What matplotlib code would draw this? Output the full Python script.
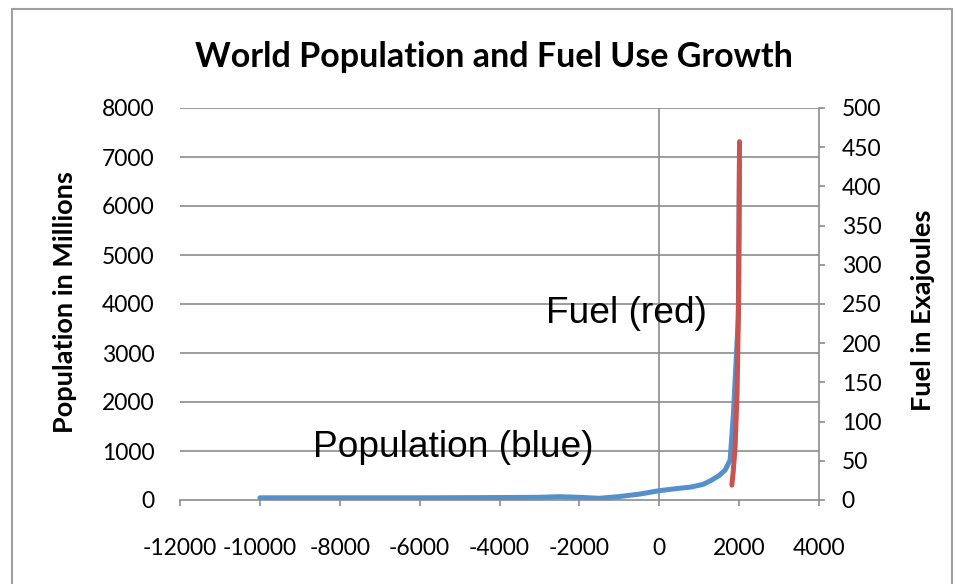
import matplotlib
matplotlib.use('agg')

import matplotlib.pyplot as plt
import matplotlib.patches as patches
import numpy as np


# population in millions
pop_years = [-10000, -8000, -6000, -4000, -3000, -2500, -2000, -1500, -1000, -500, 0,
             400, 800, 1100, 1300, 1500, 1650, 1775, 1858, 1900, 1978, 1995, 2010]
population = [45, 45, 45, 50, 55, 68, 55, 35, 70, 120, 190,
              230, 265, 320, 400, 500, 610, 816, 1770, 2450, 3700, 5300, 6900]

# fuel use in exajoules
fuel_years = [1817, 1850, 1900, 1950, 1985, 2000, 2010]
fuel = [19, 35, 68, 140, 250, 380, 457]

x_ticks = [-12000, -10000, -8000, -6000, -4000, -2000, 0, 2000, 4000]
left_ticks = [0, 1000, 2000, 3000, 4000, 5000, 6000, 7000, 8000]
right_ticks = [0, 50, 100, 150, 200, 250, 300, 350, 400, 450, 500]

title = 'World Population and Fuel Use Growth'
grid_col = '#8c8c8c'
blue = '#5590CC'
red = '#C9534F'
calibri = ['Lato', 'DejaVu Sans']
arial = ['Liberation Sans', 'DejaVu Sans']

fig = plt.figure(figsize=(9.55, 5.84), dpi=100)
fig.patch.set_facecolor('white')

# outer frame like the excel chart area
fig.patches.append(patches.Rectangle((12/955, -0.05), 940/955, 1.05 - 9/584, transform=fig.transFigure,
                                     fill=False, edgecolor='#a0a0a0', linewidth=1.5))

ax = fig.add_axes([180/955, 1 - 500/584, 639/955, 392/584])
ax2 = ax.twinx()

ax.set_xlim(-12000, 4000)
ax.set_ylim(0, 8000)
ax2.set_ylim(0, 500)

# gridlines + y axis crossing at zero
for v in left_ticks[1:]:
    ax.axhline(v, color=grid_col, linewidth=1.2, zorder=1)
ax.axvline(0, color=grid_col, linewidth=1.2, zorder=1)

ax.plot(pop_years, population, color=blue, linewidth=3.6, solid_capstyle='round',
        solid_joinstyle='round', zorder=3)
ax2.plot(fuel_years, fuel, color=red, linewidth=3.6, solid_capstyle='round',
         solid_joinstyle='round', zorder=3)

for a in (ax, ax2):
    for s in ('left', 'top'):
        a.spines[s].set_visible(False)
ax.spines['right'].set_visible(False)
ax.spines['bottom'].set_color(grid_col)
ax.spines['bottom'].set_linewidth(1.2)
ax2.spines['bottom'].set_visible(False)
ax2.spines['right'].set_color(grid_col)
ax2.spines['right'].set_linewidth(1.2)

ax.set_xticks(x_ticks)
ax.set_xticklabels([str(v) for v in x_ticks], fontfamily=calibri, fontsize=16.5)
ax.tick_params(axis='x', direction='out', length=4.3, width=1.2, color=grid_col, pad=23)

ax.set_yticks(left_ticks)
ax.set_yticklabels([str(v) for v in left_ticks], fontfamily=calibri, fontsize=16.5)
ax.tick_params(axis='y', length=0, pad=18.5)

ax2.set_yticks(right_ticks)
ax2.set_yticklabels([str(v) for v in right_ticks], fontfamily=calibri, fontsize=16.5)
ax2.tick_params(axis='y', direction='out', length=4.3, width=1.2, color=grid_col, pad=12)

# axis titles
fig.text(65/955, 1 - 302/584, 'Population in Millions', rotation=90, ha='center', va='center',
         fontfamily=calibri, fontsize=19.5, fontweight='bold')
fig.text(923/955, 1 - 310/584, 'Fuel in Exajoules', rotation=90, ha='center', va='center',
         fontfamily=calibri, fontsize=19.5, fontweight='bold')

fig.text(494/955, 1 - 57/584, title, ha='center', va='center',
         fontfamily=calibri, fontsize=24.5, fontweight='bold')

# in-chart labels
ax.text(-5150, 1080, 'Population (blue)', ha='center', va='center',
        fontfamily=arial, fontsize=26.7, zorder=2)
ax.text(-825, 3800, 'Fuel (red)', ha='center', va='center',
        fontfamily=arial, fontsize=26.7, zorder=2)

fig.savefig('out.png', dpi=100, facecolor='white')
